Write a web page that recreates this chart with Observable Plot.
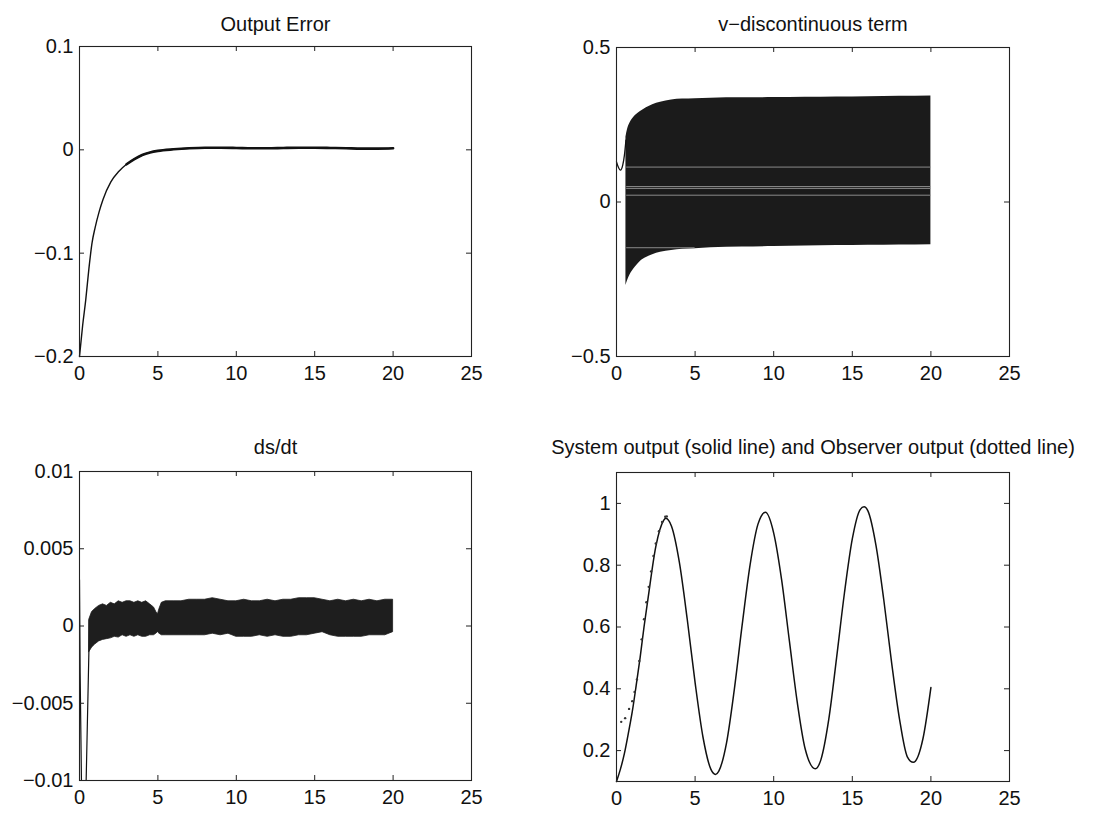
<!DOCTYPE html>
<html><head><meta charset="utf-8">
<script src="https://cdn.jsdelivr.net/npm/d3@7"></script>
<script src="https://cdn.jsdelivr.net/npm/@observablehq/plot@0.6"></script>
<style>
html,body{margin:0;padding:0;background:#fff;}
#root{position:relative;width:1096px;height:813px;overflow:hidden;background:#fff;}
#root > div{position:absolute;}
#root svg{overflow:visible;max-width:none;}
</style></head><body><div id="root"></div>
<script>
// ---------- shared ticks ----------
const xTicks = [0, 5, 10, 15, 20, 25];

// ---------- Panel 1: Output Error ----------
const errTitle = "Output Error";
const errYTicks = [-0.2, -0.1, 0, 0.1];
const errT = [0,0.2,0.4,0.6,0.8,1.0,1.25,1.5,2.0,2.5,3.0,3.5,4.0,4.5,5.0,6,7,8,9,10,11,12,13,14,15,16,17,18,19,20];
const errY = [-0.2,-0.17,-0.145,-0.115,-0.09,-0.075,-0.06,-0.048,-0.031,-0.021,-0.014,-0.009,-0.005,-0.0025,-0.001,0.0005,0.0015,0.002,0.002,0.0018,0.0015,0.0015,0.0018,0.002,0.002,0.0018,0.0015,0.0012,0.0012,0.0015];

// ---------- Panel 2: v-discontinuous term ----------
const vTitle = "v\u2212discontinuous term";
const vYTicks = [-0.5, 0, 0.5];
const vEarlyT = [0, 0.1, 0.25, 0.4, 0.5, 0.6];
const vEarlyY = [0.13, 0.115, 0.103, 0.12, 0.15, 0.2];
const vT  = [0.6, 0.7, 0.85, 1.0, 1.2, 1.5, 1.9, 2.3, 2.8, 3.5, 4.2, 5, 6, 8, 10, 12, 14, 16, 18, 20];
const vHi = [0.21, 0.235, 0.255, 0.268, 0.28, 0.292, 0.305, 0.315, 0.323, 0.330, 0.333, 0.334, 0.336, 0.337, 0.338, 0.339, 0.340, 0.341, 0.342, 0.343];
const vLo = [-0.27, -0.255, -0.237, -0.224, -0.21, -0.193, -0.18, -0.171, -0.163, -0.157, -0.153, -0.151, -0.148, -0.146, -0.144, -0.142, -0.141, -0.140, -0.139, -0.138];
const vGrayY  = [0.113, 0.05, 0.044, 0.022, -0.148];
const vGrayX1 = [0.65, 0.65, 0.65, 0.65, 0.65];
const vGrayX2 = [20, 20, 20, 20, 5];

// ---------- Panel 3: ds/dt ----------
const dsTitle = "ds/dt";
const dsYTicks = [-0.01, -0.005, 0, 0.005, 0.01];
const dsEarlyT = [0, 0.04, 0.13, 0.28, 0.42, 0.64];
const dsEarlyY = [0.003, -0.003, -0.0105, -0.016, -0.0102, 0.0003];
const dsT = [0.62,0.8,1.0,1.25,1.5,1.75,2.0,2.25,2.5,2.75,
             3.0,3.25,3.5,3.75,4.0,4.25,4.5,4.75,4.9,5.0,
             5.1,5.25,5.5,6.0,6.5,7.0,7.5,8.0,8.5,9.0,
             9.5,10,10.5,11,11.5,12,12.5,13,13.5,14,
             14.5,15,15.5,16,16.5,17,17.5,18,18.5,19,
             19.5,20];
const dsHi = [0.0004,0.0009,0.0011,0.0013,0.0014,0.0013,0.0015,0.0014,0.0016,0.0015,
              0.0016,0.0016,0.0015,0.0016,0.0015,0.0016,0.0014,0.0012,0.0009,0.00075,
              0.0011,0.0015,0.0016,0.0016,0.0016,0.0017,0.0017,0.0017,0.0018,0.0017,
              0.0016,0.0016,0.0017,0.0016,0.0016,0.0017,0.0016,0.0017,0.0017,0.0018,
              0.0018,0.0018,0.0017,0.0016,0.0017,0.0016,0.0017,0.0016,0.0017,0.0016,
              0.0017,0.0017];
const dsLo = [-0.0017,-0.0014,-0.0012,-0.0010,-0.0009,-0.00085,-0.0008,-0.0007,-0.00075,-0.0006,
              -0.0007,-0.0006,-0.0007,-0.0006,-0.0007,-0.0007,-0.0006,-0.0006,-0.0005,-0.0004,
              -0.0005,-0.0006,-0.0006,-0.0006,-0.0006,-0.0006,-0.0006,-0.0006,-0.0005,-0.0006,
              -0.0005,-0.0007,-0.0007,-0.0007,-0.0006,-0.0007,-0.0006,-0.0007,-0.0007,-0.0006,
              -0.0006,-0.0005,-0.0004,-0.0006,-0.0007,-0.0007,-0.0007,-0.0007,-0.0006,-0.0006,
              -0.0006,-0.0004];

// ---------- Panel 4: System / Observer output ----------
const sysTitle = "System output (solid line) and Observer output (dotted line)";
const sysYTicks = [0.2, 0.4, 0.6, 0.8, 1];
const sysT = [0,0.25,0.5,0.75,1.0,1.25,1.5,1.75,2.0,2.5,3.0,3.13,3.5,4.0,4.5,5.0,5.5,6.0,6.3,6.5,7.0,7.5,8.0,8.5,9.0,9.47,10.0,10.5,11.0,11.5,12.0,12.65,13.0,13.5,14.0,14.5,15.0,15.5,15.75,16.0,16.5,17.0,17.5,18.0,18.5,18.88,19.5,20];
const sysY = [0.10,0.14,0.19,0.255,0.325,0.41,0.50,0.60,0.69,0.86,0.945,0.952,0.926,0.809,0.625,0.42,0.244,0.14,0.123,0.133,0.225,0.40,0.609,0.802,0.933,0.971,0.904,0.754,0.554,0.356,0.206,0.141,0.17,0.30,0.50,0.71,0.885,0.98,0.989,0.975,0.866,0.689,0.485,0.303,0.18,0.162,0.24,0.404];
const obsT = [0.3,0.55,0.8,1.0,1.15,1.3,1.45,1.6,1.75,1.9,2.05,2.2,2.35,2.5,2.7,2.9,3.1,3.2];
const obsY = [0.293,0.305,0.335,0.36,0.39,0.43,0.49,0.56,0.625,0.68,0.73,0.78,0.83,0.87,0.91,0.94,0.957,0.958];

// ---------- helpers ----------
const FONT = "'Liberation Sans', Arial, Helvetica, sans-serif";
const fmt = d => d === 0 ? "0" : (d < 0 ? "\u2212" : "") + String(Math.abs(d));
const zip = (t, y) => t.map((v, i) => ({t: v, y: y[i]}));

function panel({left, top, width, height, mL, mT, mR, mB, yDomain, yTicks, title, titleDy, marks}) {
  const fh = height - mT - mB, fw = width - mL - mR;
  const inner = xTicks.slice(1, -1);
  const chart = Plot.plot({
    width, height,
    marginLeft: mL, marginTop: mT, marginRight: mR, marginBottom: mB,
    x: {domain: [0, 25]},
    y: {domain: yDomain},
    style: {fontFamily: FONT, fontSize: "20px", background: "transparent", color: "#111", overflow: "visible"},
    marks: [
      ...marks,
      Plot.ruleX(inner, {x: d => d, insetTop: fh - 5, stroke: "#222"}),
      Plot.ruleX(inner, {x: d => d, insetBottom: fh - 5, stroke: "#222"}),
      Plot.ruleY(yTicks, {y: d => d, insetRight: fw - 5, stroke: "#222"}),
      Plot.ruleY(yTicks, {y: d => d, insetLeft: fw - 5, stroke: "#222"}),
      Plot.frame({stroke: "#222", strokeWidth: 1.1}),
      Plot.axisX(xTicks, {tickSize: 0, tickPadding: 9, tickFormat: d => String(d), label: null, fontSize: 20, fill: "#111"}),
      Plot.axisY(yTicks, {tickSize: 0, tickPadding: 6, tickFormat: fmt, label: null, fontSize: 20, fill: "#111"}),
      Plot.text([title], {text: d => d, frameAnchor: "top", lineAnchor: "bottom", dy: titleDy, fontSize: 20, fill: "#111"})
    ]
  });
  const holder = document.createElement("div");
  holder.style.left = left + "px";
  holder.style.top = top + "px";
  holder.appendChild(chart);
  document.getElementById("root").appendChild(holder);
}

// Panel 1
const errData = zip(errT, errY);
panel({
  left: 0, top: 0, width: 548, height: 406, mL: 79, mT: 46, mR: 77, mB: 50,
  yDomain: [-0.2, 0.1], yTicks: errYTicks, title: errTitle, titleDy: -16,
  marks: [
    Plot.line(errData, {x: "t", y: "y", stroke: "#111", strokeWidth: 1.4, curve: "monotone-x"}),
    Plot.line(errData.filter(d => d.t >= 3), {x: "t", y: "y", stroke: "#111", strokeWidth: 2.6, curve: "monotone-x"})
  ]
});

// Panel 2
const vBand = vT.map((t, i) => ({t, lo: vLo[i], hi: vHi[i]}));
const vGray = vGrayY.map((y, i) => ({y, x1: vGrayX1[i], x2: vGrayX2[i]}));
panel({
  left: 548, top: 0, width: 548, height: 406, mL: 68, mT: 47, mR: 87, mB: 50,
  yDomain: [-0.5, 0.5], yTicks: vYTicks, title: vTitle, titleDy: -17,
  marks: [
    Plot.areaY(vBand, {x: "t", y1: "lo", y2: "hi", fill: "#1b1b1b", curve: "monotone-x"}),
    Plot.ruleY(vGray, {y: "y", x1: "x1", x2: "x2", stroke: "#8a8a8a", strokeWidth: 1}),
    Plot.line(zip(vEarlyT, vEarlyY), {x: "t", y: "y", stroke: "#111", strokeWidth: 1.3, curve: "monotone-x"})
  ]
});

// Panel 3
const dsBand = dsT.map((t, i) => ({t, lo: dsLo[i], hi: dsHi[i]}));
panel({
  left: 0, top: 406, width: 548, height: 407, mL: 79, mT: 65, mR: 77, mB: 33,
  yDomain: [-0.01, 0.01], yTicks: dsYTicks, title: dsTitle, titleDy: -18,
  marks: [
    Plot.line(zip(dsEarlyT, dsEarlyY), {x: "t", y: "y", stroke: "#111", strokeWidth: 1.2, clip: true}),
    Plot.areaY(dsBand, {x: "t", y1: "lo", y2: "hi", fill: "#1e1e1e", stroke: "#1e1e1e", strokeWidth: 0.8})
  ]
});

// Panel 4
panel({
  left: 548, top: 406, width: 548, height: 407, mL: 68, mT: 66, mR: 87, mB: 32,
  yDomain: [0.1, 1.1], yTicks: sysYTicks, title: sysTitle, titleDy: -19,
  marks: [
    Plot.line(zip(sysT, sysY), {x: "t", y: "y", stroke: "#111", strokeWidth: 1.5, curve: "monotone-x"}),
    Plot.dot(zip(obsT, obsY), {x: "t", y: "y", r: 1.2, fill: "#333", stroke: null})
  ]
});
</script>
</body></html>
